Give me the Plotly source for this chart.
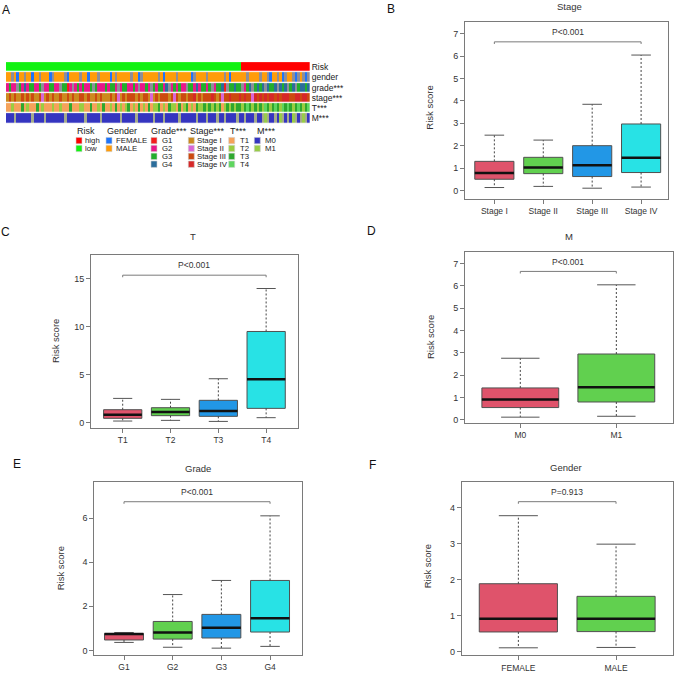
import plotly.graph_objects as go

W, H = 674, 677

# ---------------- data: panel A (annotation heatmap, one column per patient group) ----------------
heat_rows = ["Risk", "gender", "grade***", "stage***", "T***", "M***"]
risk_row = "L" * 93 + "H" * 27
gender_row = ("MMgMFMMgMM" "FMMgMMMFgM" "MMMgFMMMMg" "MMFMMMgMMM" "MFMgMMMMMg" "MMFgMMMMMM"
              "gMFMMMMgMM" "MMMFgMMMMg" "MMMMMMgMFM" "MMMMMgMMMM" "gMMgFMMgMF" "gMMgFgMgFg")
grade_row = ("2322g32423" "3223g22332" "2g3312g232" "3223g32223" "2332g23322" "32g2232g32"
             "3324g23232" "2g33242332" "3g23341g33" "433g234g34" "34g4334g43" "4g34g34434")
stage_row = ("1313113131" "3113213131" "1311313113" "3131131311" "1313213133" "3131331213"
             "1333132313" "3133413133" "3431323343" "3343433243" "4343443434" "4433443443")
t_row = ("1121113121" "1131211121" "1211131112" "2113112131" "1213121231" "2131213122"
         "3121322131" "2312132232" "3232312323" "2332343232" "3243234324" "3432343234")
m_row = ("000g000000" "g0000g0000" "000g000000" "0g00000g00" "00000g0000" "0g000000g0"
         "00g00000g0" "00000g000g" "000g00g000" "0g00g000g0" "0g1g00g01g" "0g01g0g1g0")

risk_labels = ["high", "low"]
gender_labels = ["FEMALE", "MALE"]
grade_labels = ["G1", "G2", "G3", "G4"]
stage_labels = ["Stage I", "Stage II", "Stage III", "Stage IV"]
t_labels = ["T1", "T2", "T3", "T4"]
m_labels = ["M0", "M1"]

# ---------------- data: box plot summaries (lower whisker, Q1, median, Q3, upper whisker) ----------------
stage_cats = ["Stage I", "Stage II", "Stage III", "Stage IV"]
stage_low = [0.13, 0.18, 0.10, 0.15]
stage_q1 = [0.50, 0.75, 0.62, 0.80]
stage_med = [0.78, 1.02, 1.13, 1.46]
stage_q3 = [1.30, 1.48, 2.00, 2.97]
stage_high = [2.47, 2.25, 3.85, 6.05]
stage_p = "P<0.001"
stage_bracket_y = 6.64
stage_p_y = 7.09

t_cats = ["T1", "T2", "T3", "T4"]
t_low = [0.14, 0.21, 0.10, 0.49]
t_q1 = [0.42, 0.70, 0.63, 1.46]
t_med = [0.80, 1.08, 1.18, 4.51]
t_q3 = [1.32, 1.53, 2.30, 9.48]
t_high = [2.50, 2.40, 4.55, 13.96]
t_p = "P<0.001"
t_bracket_y = 15.35
t_p_y = 16.4

m_cats = ["M0", "M1"]
m_low = [0.12, 0.16]
m_q1 = [0.55, 0.80]
m_med = [0.91, 1.46]
m_q3 = [1.43, 2.95]
m_high = [2.76, 6.05]
m_p = "P<0.001"
m_bracket_y = 6.65
m_p_y = 7.09

grade_cats = ["G1", "G2", "G3", "G4"]
grade_low = [0.36, 0.14, 0.10, 0.18]
grade_q1 = [0.47, 0.51, 0.56, 0.83]
grade_med = [0.74, 0.81, 1.03, 1.45]
grade_q3 = [0.76, 1.31, 1.63, 3.17]
grade_high = [0.81, 2.53, 3.17, 6.10]
grade_p = "P<0.001"
grade_bracket_y = 6.74
grade_p_y = 7.16

gender_cats = ["FEMALE", "MALE"]
gender_low = [0.10, 0.11]
gender_q1 = [0.54, 0.55]
gender_med = [0.91, 0.91]
gender_q3 = [1.88, 1.53]
gender_high = [3.77, 2.98]
gender_p = "P=0.913"
gender_bracket_y = 4.16
gender_p_y = 4.43

# ---------------- styles ----------------
FONT = "Liberation Sans, Arial, Helvetica, sans-serif"
TXT = "#333333"
FRAME = "#7a7a7a"
BOX_COLORS = ["#DF536B", "#61D04F", "#2297E6", "#28E2E5"]
GREY = "#8E8E98"

risk_colors = {"H": "#FF0000", "L": "#12F212"}
gender_colors = {"F": "#1F74FA", "M": "#FF9C0A", "g": GREY}
grade_colors = {"1": "#F21D1D", "2": "#E8178A", "3": "#22AE2C", "4": "#2B6D9B", "g": GREY}
stage_colors = {"1": "#CC8A1E", "2": "#D966D6", "3": "#CC4A10", "4": "#D62828"}
t_colors = {"1": "#F5A25A", "2": "#9ACD40", "3": "#2EA82E", "4": "#5ED65E"}
m_colors = {"0": "#3535C0", "1": "#98CC48", "g": "#A4AA8C"}


def px(x):
    return x / W


def py(y):
    return 1 - y / H


fig = go.Figure()
annotations = []
shapes = []

# ---------------- panel A heatmap ----------------
row_data = [(risk_row, risk_colors), (gender_row, gender_colors), (grade_row, grade_colors),
            (stage_row, stage_colors), (t_row, t_colors), (m_row, m_colors)]
palette = []
index = {}
z = []
for r, (s, cmap) in enumerate(row_data):
    zr = []
    for ch in s:
        key = (r, ch)
        if key not in index:
            index[key] = len(palette)
            palette.append(cmap[ch])
        zr.append(index[key])
    z.append(zr)
K = len(palette)
cscale = []
for i, c in enumerate(palette):
    cscale.append([i / K, c])
    cscale.append([(i + 1) / K, c])
ncol = len(risk_row)
fig.add_trace(go.Heatmap(z=z, y=heat_rows, x=list(range(ncol)), colorscale=cscale,
                         zmin=-0.5, zmax=K - 0.5, showscale=False, ygap=1.3, xgap=0,
                         hoverinfo="skip", xaxis="x", yaxis="y"))
layout_axes = {
    "xaxis": dict(domain=[px(6), px(309.7)], range=[-0.5, ncol - 0.5], visible=False, anchor="y"),
    "yaxis": dict(domain=[py(124), py(62.3)], autorange="reversed", side="right", anchor="x",
                  showgrid=False, zeroline=False, showline=False, ticks="", ticklabelstandoff=1,
                  tickfont=dict(size=8.5, color="#222", family=FONT)),
}

# legend of panel A
legend_groups = [
    ("Risk", risk_labels, [risk_colors["H"], risk_colors["L"]], 75, 76, 83.3),
    ("Gender", gender_labels, [gender_colors["F"], gender_colors["M"]], 105, 106, 114.3),
    ("Grade***", grade_labels, [grade_colors[k] for k in "1234"], 149.3, 151, 160),
    ("Stage***", stage_labels, [stage_colors[k] for k in "1234"], 187.7, 188.3, 195),
    ("T***", t_labels, [t_colors[k] for k in "1234"], 227.7, 228.7, 238.3),
    ("M***", m_labels, [m_colors["0"], m_colors["1"]], 255, 254.3, 263.3),
]
for title, labels, cols, tx, sx, lx in legend_groups:
    annotations.append(dict(x=px(tx), y=py(131.5), xref="paper", yref="paper", text=title,
                            showarrow=False, xanchor="left", yanchor="middle",
                            font=dict(size=9, color="#222", family=FONT)))
    for k, (lab, col) in enumerate(zip(labels, cols)):
        yc = 141 + 7.9 * k
        shapes.append(dict(type="rect", xref="paper", yref="paper", x0=px(sx), x1=px(sx + 6),
                           y0=py(yc + 3.2), y1=py(yc - 3.2), fillcolor=col,
                           line=dict(width=0.6, color="#d0d0d0")))
        annotations.append(dict(x=px(lx), y=py(yc), xref="paper", yref="paper", text=lab,
                                showarrow=False, xanchor="left", yanchor="middle",
                                font=dict(size=7.8, color="#222", family=FONT)))

# ---------------- box panels ----------------
panels = [
    dict(n=2, cats=stage_cats, low=stage_low, q1=stage_q1, med=stage_med, q3=stage_q3, high=stage_high,
         p=stage_p, by=stage_bracket_y, pty=stage_p_y, title="Stage",
         xd=(465, 668), yd=(22, 199.3), xr=(0.40, 4.55), yr=(-0.37, 7.53), dtick=1,
         tpos=(569, 7), lpos=(430, 108)),
    dict(n=3, cats=t_cats, low=t_low, q1=t_q1, med=t_med, q3=t_q3, high=t_high,
         p=t_p, by=t_bracket_y, pty=t_p_y, title="T",
         xd=(91, 297.7), yd=(256, 429.3), xr=(0.337, 4.66), yr=(-0.59, 17.43), dtick=5,
         tpos=(193, 237), lpos=(56, 342)),
    dict(n=4, cats=m_cats, low=m_low, q1=m_q1, med=m_med, q3=m_q3, high=m_high,
         p=m_p, by=m_bracket_y, pty=m_p_y, title="M",
         xd=(465, 672.7), yd=(252.3, 424), xr=(0.424, 2.587), yr=(-0.13, 7.54), dtick=1,
         tpos=(569, 237), lpos=(430, 338)),
    dict(n=5, cats=grade_cats, low=grade_low, q1=grade_q1, med=grade_med, q3=grade_q3, high=grade_high,
         p=grade_p, by=grade_bracket_y, pty=grade_p_y, title="Grade",
         xd=(94.3, 301.7), yd=(483.3, 656.7), xr=(0.39, 4.65), yr=(-0.2, 7.64), dtick=2,
         tpos=(198, 470), lpos=(60, 570)),
    dict(n=6, cats=gender_cats, low=gender_low, q1=gender_q1, med=gender_med, q3=gender_q3, high=gender_high,
         p=gender_p, by=gender_bracket_y, pty=gender_p_y, title="Gender",
         xd=(461.7, 672.7), yd=(483.3, 657.3), xr=(0.42, 2.58), yr=(-0.11, 4.71), dtick=1,
         tpos=(566, 469), lpos=(427, 568)),
]

for pnl in panels:
    n = pnl["n"]
    xa, ya = f"x{n}", f"y{n}"
    ncat = len(pnl["cats"])
    for i in range(ncat):
        xi = i + 1
        fig.add_trace(go.Box(x=[xi], q1=[pnl["q1"][i]], median=[pnl["med"][i]], q3=[pnl["q3"][i]],
                             lowerfence=[pnl["q1"][i]], upperfence=[pnl["q3"][i]], width=0.8,
                             whiskerwidth=0, fillcolor=BOX_COLORS[i], boxpoints=False,
                             line=dict(color="#505050", width=1), showlegend=False,
                             hoverinfo="skip", xaxis=xa, yaxis=ya))
        # dashed whiskers
        fig.add_trace(go.Scatter(x=[xi, xi, None, xi, xi],
                                 y=[pnl["q3"][i], pnl["high"][i], None, pnl["q1"][i], pnl["low"][i]],
                                 mode="lines", line=dict(color="#444444", width=1, dash="2px,2px"),
                                 showlegend=False, hoverinfo="skip", xaxis=xa, yaxis=ya))
        # whisker caps
        fig.add_trace(go.Scatter(x=[xi - 0.2, xi + 0.2, None, xi - 0.2, xi + 0.2],
                                 y=[pnl["high"][i], pnl["high"][i], None, pnl["low"][i], pnl["low"][i]],
                                 mode="lines", line=dict(color="#555555", width=1),
                                 showlegend=False, hoverinfo="skip", xaxis=xa, yaxis=ya))
        # median
        fig.add_trace(go.Scatter(x=[xi - 0.4, xi + 0.4], y=[pnl["med"][i], pnl["med"][i]],
                                 mode="lines", line=dict(color="#111111", width=2.5),
                                 showlegend=False, hoverinfo="skip", xaxis=xa, yaxis=ya))
    # significance bracket
    drop = 0.012 * (pnl["yr"][1] - pnl["yr"][0])
    fig.add_trace(go.Scatter(x=[1, 1, ncat, ncat],
                             y=[pnl["by"] - drop, pnl["by"], pnl["by"], pnl["by"] - drop],
                             mode="lines", line=dict(color="#7a7a7a", width=1),
                             showlegend=False, hoverinfo="skip", xaxis=xa, yaxis=ya))
    annotations.append(dict(x=(1 + ncat) / 2, y=pnl["pty"], xref=xa, yref=ya, text=pnl["p"],
                            showarrow=False, xanchor="center", yanchor="middle",
                            font=dict(size=8.5, color=TXT, family=FONT)))
    # title and y label
    annotations.append(dict(x=px(pnl["tpos"][0]), y=py(pnl["tpos"][1]), xref="paper", yref="paper",
                            text=pnl["title"], showarrow=False, xanchor="center", yanchor="middle",
                            font=dict(size=9.5, color=TXT, family=FONT)))
    annotations.append(dict(x=px(pnl["lpos"][0]), y=py(pnl["lpos"][1]), xref="paper", yref="paper",
                            text="Risk score", showarrow=False, textangle=-90,
                            xanchor="center", yanchor="middle",
                            font=dict(size=9.5, color=TXT, family=FONT)))
    layout_axes[f"xaxis{n}"] = dict(domain=[px(pnl["xd"][0]), px(pnl["xd"][1])], range=list(pnl["xr"]),
                                    anchor=ya, tickvals=list(range(1, ncat + 1)), ticktext=pnl["cats"],
                                    ticks="outside", ticklen=4, tickcolor=FRAME, showline=True,
                                    mirror=True, linecolor=FRAME, linewidth=1, showgrid=False,
                                    zeroline=False, tickfont=dict(size=8.5, color=TXT, family=FONT))
    layout_axes[f"yaxis{n}"] = dict(domain=[py(pnl["yd"][1]), py(pnl["yd"][0])], range=list(pnl["yr"]),
                                    anchor=xa, dtick=pnl["dtick"], tick0=0, ticks="outside", ticklen=4,
                                    tickcolor=FRAME, showline=True, mirror=True, linecolor=FRAME,
                                    linewidth=1, showgrid=False, zeroline=False,
                                    tickfont=dict(size=9, color=TXT, family=FONT))

# panel letters
for letter, lx, ly in [("A", 6, 10), ("B", 391, 9), ("C", 5, 233), ("D", 371, 232), ("E", 17, 465), ("F", 372, 466)]:
    annotations.append(dict(x=px(lx), y=py(ly), xref="paper", yref="paper", text=letter,
                            showarrow=False, xanchor="center", yanchor="middle",
                            font=dict(size=12, color="#111", family=FONT)))

fig.update_layout(width=W, height=H, autosize=False, margin=dict(l=0, r=0, t=0, b=0),
                  paper_bgcolor="white", plot_bgcolor="white", showlegend=False,
                  annotations=annotations, shapes=shapes, **layout_axes)

fig.write_html("out.html", config={"displayModeBar": False})

# remove the browser's default page margin so the figure sits at the window's top-left corner
with open("out.html", "r", encoding="utf-8") as fh:
    html = fh.read()
html = html.replace("<head>", "<head><style>html,body{margin:0;padding:0;overflow:hidden}</style>", 1)
with open("out.html", "w", encoding="utf-8") as fh:
    fh.write(html)
